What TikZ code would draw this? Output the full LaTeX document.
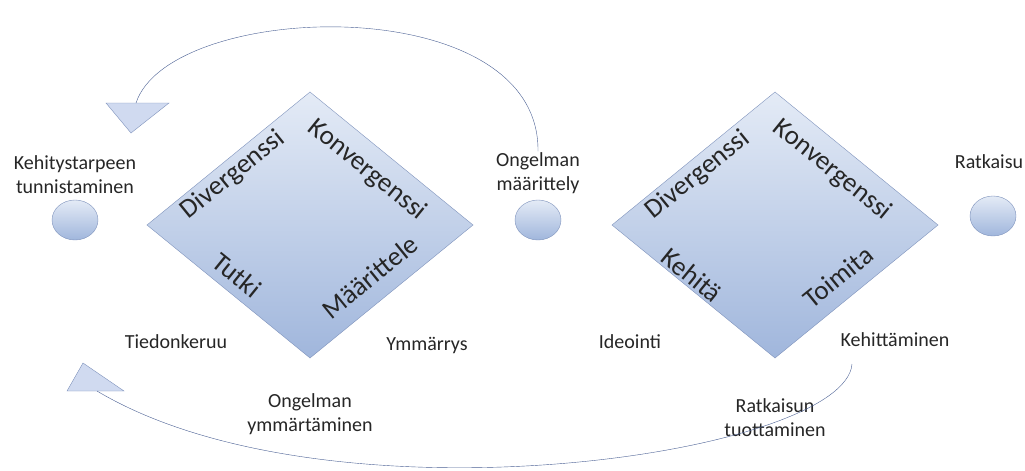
\documentclass[tikz,border=0pt]{standalone}
\usepackage{fontspec}
\setmainfont{Carlito}
\usetikzlibrary{shapes.geometric,positioning}

\definecolor{fillTop}{HTML}{E4EBF6}
\definecolor{fillBot}{HTML}{A0B6DC}
\definecolor{edgeBlue}{HTML}{7F93BC}
\definecolor{arcBlue}{HTML}{4A5F93}
\definecolor{arrFill}{HTML}{D0DAF0}

\begin{document}
\begin{tikzpicture}[x=1pt, y=-1pt,
    lbl/.style={font=\fontsize{20}{24}\selectfont, align=center, text=black!85, inner sep=1pt},
    dtxt/.style={font=\fontsize{27}{30}\selectfont, text=black!85, inner sep=0pt},
    blob/.style={ellipse, draw=edgeBlue, top color=fillTop, bottom color=fillBot,
                 minimum width=46pt, minimum height=40pt, inner sep=0pt},
    arr/.style={draw=edgeBlue, fill=arrFill, line join=miter}]
            \useasboundingbox (0,0) rectangle (1025,471);

            % diamonds
            \foreach \cx/\a/\ax/\b/\bx in {310/Tutki/-73/Määrittele/60, 775/Kehitä/-83/Toimita/63}
            {
                \shade [draw=edgeBlue, top color=fillTop, bottom color=fillBot]
                    (\cx-163,225) -- (\cx,92) -- (\cx+163,225) -- (\cx,358) -- cycle;
                \node [dtxt, rotate=39] at (\cx-77,175) {Divergenssi};
                \node [dtxt, rotate=-39] at (\cx+57,170) {Konvergenssi};
                \node [dtxt, rotate=-39] at (\cx+\ax,275) {\a};
                \node [dtxt, rotate=39] at (\cx+\bx,277) {\b};
            }

            % stages
            \node [blob] (start) at (75,220) {};
            \node [blob] (mid) at (538,220) {};
            \node [blob] (end) at (993,216) {};
            \node [lbl, above=5pt of start.north, anchor=south] (startlbl) {Kehitystarpeen\\tunnistaminen};
            \node [lbl, above=5pt of mid.north, anchor=south] (midlbl) {Ongelman\\määrittely};
            \node [lbl] (endlbl) at (989,162) {Ratkaisu};

            \node [lbl] (tieto) at (176,342) {Tiedonkeruu};
            \node [lbl] (ymm) at (427,345) {Ymmärrys};
            \node [lbl] (ong) at (310,414) {Ongelman\\ymmärtäminen};
            \node [lbl] (idea) at (630,342) {Ideointi};
            \node [lbl] (kehi) at (895,340) {Kehittäminen};
            \node [lbl] (ratk) at (775,418) {Ratkaisun\\tuottaminen};

            % arrow heads
            \draw [arr] (106,103) -- (169,103) -- (131,133) -- cycle;
            \coordinate (topend) at (136,103);
            \draw [arr] (83,363) -- (124,391) -- (67,391) -- cycle;
            \coordinate (botend) at (97,391);
            \coordinate (botstart) at (852,364);

            % loops back
            \draw [arcBlue] (midlbl.north) .. controls (540,-12) and (170,0) .. (topend);
            \draw [arcBlue] (botstart) .. controls (845,455) and (330,530) .. (botend);
\end{tikzpicture}
\end{document}
